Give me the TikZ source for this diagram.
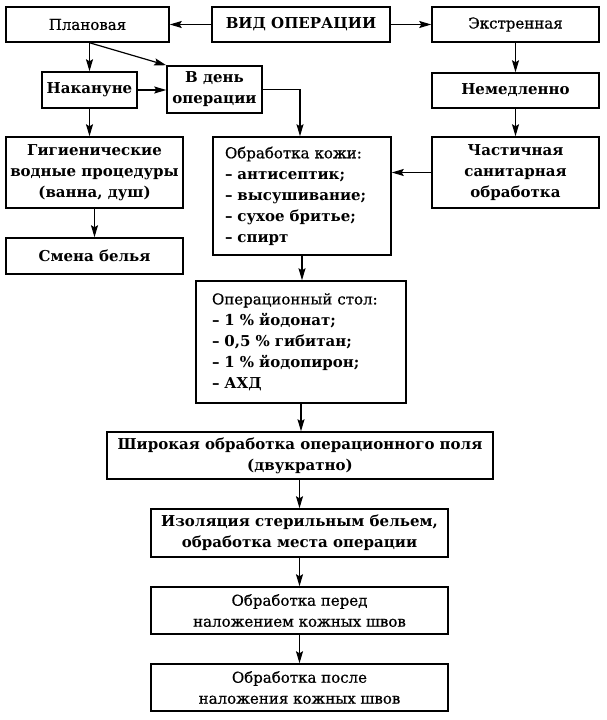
\documentclass[tikz,border=0pt]{standalone}
\usepackage{fontspec}
\setmainfont{DejaVu Serif}
\newfontfamily\medserif[FakeBold=0.7]{DejaVu Serif}
\usetikzlibrary{arrows.meta}
\begin{document}
\begin{tikzpicture}[x=1pt,y=-1pt,
  box/.style={draw, line width=1.5pt, inner sep=0pt, align=center,
    font=\fontsize{15}{21}\medserif},
  bbox/.style={box, font=\fontsize{15}{21}\selectfont\bfseries},
  arr/.style={line width=1.2pt, -{Stealth[length=12pt,width=7pt,inset=2pt]}}]
\useasboundingbox (0,0) rectangle (607,720);
% top row
\node[box, minimum width=163pt, minimum height=35pt] (plan) at (87.5,24.5) {Плановая};
\node[bbox, minimum width=178pt, minimum height=35pt] (vid) at (301,24.5) {ВИД ОПЕРАЦИИ};
\node[box, minimum width=167pt, minimum height=35pt] (ekstr) at (515.5,24.5) {Экстренная};
% second row
\node[bbox, minimum width=95pt, minimum height=36pt] (nak) at (89.5,90) {Накануне};
\node[bbox, minimum width=95pt, minimum height=47pt] (vden) at (214.5,89.5) {В день\\операции};
\node[bbox, minimum width=167pt, minimum height=35pt] (nemed) at (515.5,90.5) {Немедленно};
% third row
\node[bbox, minimum width=177pt, minimum height=71pt] (gig) at (94.5,172.5) {Гигиенические\\водные процедуры\\(ванна, душ)};
\node[box, minimum height=118pt, text width=154pt, inner xsep=12pt, align=left] (obrk) at (302,196)
  {Обработка кожи:\\{\rmfamily\bfseries – антисептик;}\\{\rmfamily\bfseries – высушивание;}\\{\rmfamily\bfseries – сухое бритье;}\\{\rmfamily\bfseries – спирт}};
\node[bbox, minimum width=167pt, minimum height=71pt] (chast) at (515.5,172.5) {Частичная\\санитарная\\обработка};
\node[bbox, minimum width=177pt, minimum height=36pt] (smena) at (94.5,256) {Смена белья};
% column
\node[box, minimum height=122pt, text width=178pt, inner xsep=16pt, align=left] (optab) at (301,342)
  {Операционный стол:\\{\rmfamily\bfseries – 1 \% йодонат;}\\{\rmfamily\bfseries – 0,5 \% гибитан;}\\{\rmfamily\bfseries – 1 \% йодопирон;}\\{\rmfamily\bfseries – АХД}};
\node[bbox, minimum width=386pt, minimum height=47pt] (shir) at (300,455.5) {Широкая обработка операционного поля\\(двукратно)};
\node[bbox, minimum width=297pt, minimum height=48pt] (izol) at (299.5,533) {Изоляция стерильным бельем,\\обработка места операции};
\node[box, minimum width=297pt, minimum height=47pt] (pered) at (299.5,610.5) {Обработка перед\\наложением кожных швов};
\node[box, minimum width=297pt, minimum height=47pt] (posle) at (299.5,687.5) {Обработка после\\наложения кожных швов};
% connectors
\draw[arr] (vid.west) -- (plan.east);
\draw[arr] (vid.east) -- (ekstr.west);
\draw[arr] (nak.north |- plan.south) -- (nak.north);
\draw[arr] (nak.north |- plan.south) -- (vden.north west);
\draw[arr] (nak.east) -- (vden.west |- nak.east);
\draw[arr] (nak.south) -- (nak.south |- gig.north);
\draw[arr] (gig.south) -- (smena.north);
\draw[arr] (vden.east) -| ([xshift=-2pt]obrk.north);
\draw[arr] (ekstr.south) -- (nemed.north);
\draw[arr] (nemed.south) -- (chast.north);
\draw[arr] (chast.west) -- (obrk.east |- chast.west);
\draw[arr] (obrk.south) -- (obrk.south |- optab.north);
\draw[arr] (optab.south) -- (optab.south |- shir.north);
\draw[arr] (izol.north |- shir.south) -- (izol.north);
\draw[arr] (izol.south) -- (pered.north);
\draw[arr] (pered.south) -- (posle.north);
\end{tikzpicture}
\end{document}
